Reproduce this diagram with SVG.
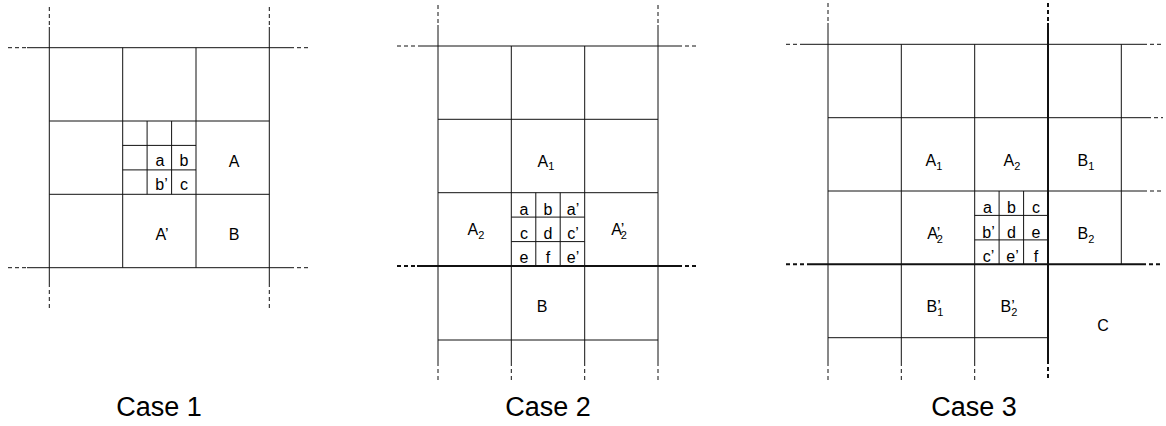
<svg xmlns="http://www.w3.org/2000/svg" width="1166" height="426" viewBox="0 0 1166 426">
<style>
.ln{stroke:#111;stroke-width:1;fill:none}
.th{stroke:#111;stroke-width:2;fill:none}
.dh{stroke:#111;stroke-width:1;fill:none;stroke-dasharray:4 3}
.dht{stroke:#111;stroke-width:2;fill:none;stroke-dasharray:4 3}
text{font-family:"Liberation Sans",Arial,sans-serif;fill:#000;text-anchor:middle}
.lb{font-size:16px}
.sb{font-size:11px}
.cap{font-size:27px}
</style>
<rect width="1166" height="426" fill="#fff"/>

<g id="case1">
  <g id="case1-grid">
    <path class="ln" d="M27 47.7H290M27 267.7H290M49.3 121H269.3M49.3 194.3H269.3M49.3 27V283M269.3 27V283M122.7 47.7V267.7M196 47.7V267.7"/>
    <path class="ln" d="M147.1 121V194.3M171.6 121V194.3M122.7 145.4H196M122.7 169.9H196"/>
    <path class="dh" d="M8 47.7H27M290 47.7H310M8 267.7H27M290 267.7H310M49.3 7V27M269.3 7V27M49.3 283V308M269.3 283V308"/>
  </g>
  <g id="case1-labels" class="lb">
    <text x="160" y="165.5">a</text>
    <text x="184" y="165.5">b</text>
    <text x="161.5" y="190">b’</text>
    <text x="184" y="190">c</text>
    <text x="234" y="166.5">A</text>
    <text x="162" y="240">A’</text>
    <text x="234" y="240">B</text>
  </g>
  <text class="cap" x="159" y="416">Case 1</text>
</g>

<g id="case2">
  <g id="case2-grid">
    <path class="ln" d="M418 46H678M438 119.3H658M438 192.7H658M438 340H658M438 25V362M658 25V362M511.3 46V362M584.7 46V362"/>
    <path class="th" d="M417 266H678"/>
    <path class="ln" d="M535.8 192.7V266M560.2 192.7V266M511.3 217.1H584.7M511.3 241.6H584.7"/>
    <path class="dh" d="M397 46H418M678 46H698M438 5V25M658 5V25M438 362V380M511.3 362V380M584.7 362V380M658 362V380"/>
    <path class="dht" d="M397 266H417M678 266H698"/>
  </g>
  <g id="case2-labels" class="lb">
    <text x="524" y="214.5">a</text>
    <text x="548" y="214.5">b</text>
    <text x="573" y="214.5">a’</text>
    <text x="524" y="239">c</text>
    <text x="548" y="239">d</text>
    <text x="573" y="239">c’</text>
    <text x="524" y="263">e</text>
    <text x="548" y="263">f</text>
    <text x="573" y="263">e’</text>
    <text x="546" y="166.5">A<tspan class="sb" dy="3.5">1</tspan></text>
    <text x="476" y="235">A<tspan class="sb" dy="3.5">2</tspan></text>
    <text x="619" y="235">A’<tspan class="sb" dx="-3.5" dy="3.5">2</tspan></text>
    <text x="542" y="311.5">B</text>
  </g>
  <text class="cap" x="548" y="416">Case 2</text>
</g>

<g id="case3">
  <g id="case3-grid">
    <path class="ln" d="M803 44.3H1143M828 117.7H1147M828 191H1143M828 337.7H1048M828 23V362M901.3 44.3V362M974.7 44.3V362M1121.3 44.3V264.3"/>
    <path class="th" d="M807 264.3H1142M1048 23V360"/>
    <path class="ln" d="M999.1 191V264.3M1023.6 191V264.3M974.7 215.4H1048M974.7 239.9H1048"/>
    <path class="dh" d="M786 44.3H803M1143 44.3H1163M1147 117.7H1163M1143 191H1163M828 3V23M828 362V380M901.3 362V380M974.7 362V380"/>
    <path class="dht" d="M786 264.3H807M1142 264.3H1163M1048 3V23M1048 360V380"/>
  </g>
  <g id="case3-labels" class="lb">
    <text x="987.5" y="213">a</text>
    <text x="1011.5" y="213">b</text>
    <text x="1036" y="213">c</text>
    <text x="988.5" y="237.5">b’</text>
    <text x="1011.5" y="237.5">d</text>
    <text x="1036" y="237.5">e</text>
    <text x="988.5" y="261.5">c’</text>
    <text x="1012.5" y="261.5">e’</text>
    <text x="1036" y="261.5">f</text>
    <text x="934" y="166">A<tspan class="sb" dy="3.5">1</tspan></text>
    <text x="1012" y="166">A<tspan class="sb" dy="3.5">2</tspan></text>
    <text x="1086" y="166">B<tspan class="sb" dy="3.5">1</tspan></text>
    <text x="935" y="239">A’<tspan class="sb" dx="-3.5" dy="3.5">2</tspan></text>
    <text x="1086" y="239">B<tspan class="sb" dy="3.5">2</tspan></text>
    <text x="935" y="312">B’<tspan class="sb" dx="-3.5" dy="3.5">1</tspan></text>
    <text x="1009" y="312">B’<tspan class="sb" dx="-3.5" dy="3.5">2</tspan></text>
    <text x="1103" y="330.5">C</text>
  </g>
  <text class="cap" x="974" y="416">Case 3</text>
</g>
</svg>
